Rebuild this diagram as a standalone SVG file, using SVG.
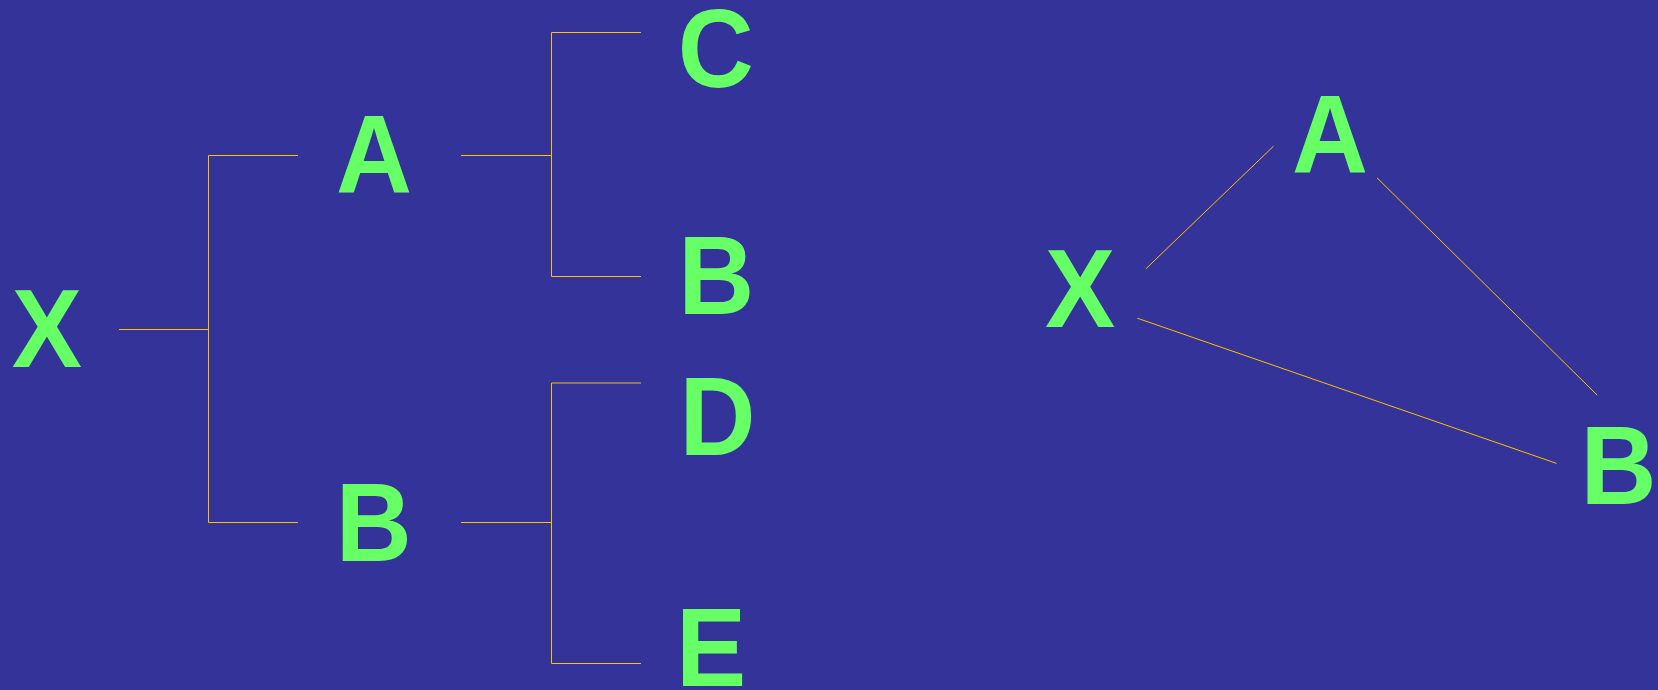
<svg xmlns="http://www.w3.org/2000/svg" width="1658" height="690" viewBox="0 0 1658 690">
<style>
.lbl{font-family:"Liberation Sans",Arial,sans-serif;font-weight:bold;font-size:112px;fill:#66FF66;text-anchor:middle}
.ln{stroke:#FFC000;stroke-width:1;fill:none}
</style>
<rect x="0" y="0" width="1658" height="690" fill="#333399"/>
<g id="connectors">
<polyline class="ln" points="119,329.5 208.5,329.5"/>
<polyline class="ln" points="298,155.5 208.5,155.5 208.5,522.5 298,522.5"/>
<polyline class="ln" points="461,155.5 551.5,155.5"/>
<polyline class="ln" points="641,32.5 551.5,32.5 551.5,276.5 641,276.5"/>
<polyline class="ln" points="461,522.5 551.5,522.5"/>
<polyline class="ln" points="641,383 551.5,383 551.5,663.5 641,663.5"/>
<line class="ln" x1="1145.8" y1="268.9" x2="1273.6" y2="146.1"/>
<line class="ln" x1="1377" y1="177.8" x2="1597.3" y2="395.2"/>
<line class="ln" x1="1137.3" y1="318.2" x2="1556.6" y2="463.4"/>
</g>
<g id="tree-X"><text class="lbl" transform="translate(46.8,367.4) scale(0.94,1)">X</text></g>
<g id="tree-A"><text class="lbl" transform="translate(374,193.3) scale(0.94,1)">A</text></g>
<g id="tree-B"><text class="lbl" transform="translate(373.8,560.5) scale(0.94,1)">B</text></g>
<g id="tree-C"><text class="lbl" transform="translate(715.7,86.5) scale(0.94,1)">C</text></g>
<g id="tree-B2"><text class="lbl" transform="translate(716.2,313.8) scale(0.94,1)">B</text></g>
<g id="tree-D"><text class="lbl" transform="translate(717.4,455) scale(0.94,1)">D</text></g>
<g id="tree-E"><text class="lbl" transform="translate(711,686) scale(0.94,1)">E</text></g>
<g id="graph-X"><text class="lbl" transform="translate(1080.2,327) scale(0.94,1)">X</text></g>
<g id="graph-A"><text class="lbl" transform="translate(1330,172.5) scale(0.94,1)">A</text></g>
<g id="graph-B"><text class="lbl" transform="translate(1618.5,504) scale(0.94,1)">B</text></g>
</svg>
